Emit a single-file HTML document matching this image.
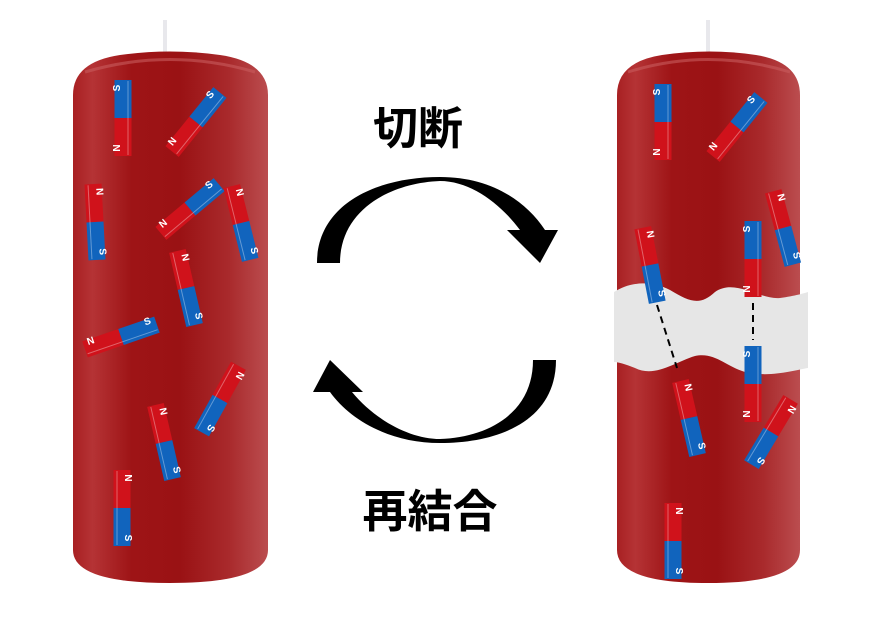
<!DOCTYPE html>
<html><head><meta charset="utf-8"><style>html,body{margin:0;padding:0;background:#fff}svg{display:block}</style></head>
<body>
<svg width="881" height="626" viewBox="0 0 881 626" xmlns="http://www.w3.org/2000/svg">
<defs>
<linearGradient id="cg" x1="0" x2="1" y1="0" y2="0">
<stop offset="0" stop-color="#a82022"/>
<stop offset="0.1" stop-color="#b53335"/>
<stop offset="0.3" stop-color="#9e1416"/>
<stop offset="0.55" stop-color="#9a1214"/>
<stop offset="0.8" stop-color="#a92a2c"/>
<stop offset="1" stop-color="#bb4d4f"/>
</linearGradient>
<g id="mag">
<rect x="-8.5" y="-38" width="17" height="38" fill="#d0121b"/>
<rect x="-8.5" y="0" width="17" height="38" fill="#1164bd"/>
<line x1="-5" y1="-37" x2="-5" y2="37" stroke="#fff" stroke-opacity="0.35" stroke-width="1"/>
<text transform="translate(3,-30) rotate(90)" font-family="Liberation Sans,sans-serif" font-weight="bold" font-size="10" fill="#fff" text-anchor="middle">N</text>
<text transform="translate(3,30) rotate(90)" font-family="Liberation Sans,sans-serif" font-weight="bold" font-size="10" fill="#fff" text-anchor="middle">S</text>
</g>
</defs>
<!-- left candle -->
<rect x="163" y="20" width="4" height="32" fill="#e8e8ec"/>
<path d="M73,95 Q73,62 120,55 Q170,48 220,55 Q268,62 268,95 L268,550 Q268,583 170,583 Q73,583 73,550 Z" fill="url(#cg)"/>
<path d="M85,72 Q170,47 255,72" stroke="#c85c5e" stroke-width="3" fill="none" opacity="0.6"/>
<!-- right candle -->
<rect x="706" y="20" width="4" height="32" fill="#e8e8ec"/>
<path d="M617,95 Q617,62 662,55 Q710,48 756,55 Q800,62 800,95 L800,550 Q800,583 708,583 Q617,583 617,550 Z" fill="url(#cg)"/>
<path d="M628,72 Q708,47 790,72" stroke="#c85c5e" stroke-width="3" fill="none" opacity="0.6"/>
<path d="M614,292 C630,282 650,280 670,290 C690,302 700,306 715,292 C735,278 760,300 780,298 C795,296 805,293 808,292 L808,368 C795,370 770,378 745,372 C725,366 715,352 695,356 C675,362 655,378 635,368 C625,364 618,362 614,362 Z" fill="#e6e6e6"/>
<!-- left magnets -->
<use href="#mag" transform="translate(123,118) rotate(180)"/>
<use href="#mag" transform="translate(196,122) rotate(-141)"/>
<use href="#mag" transform="translate(95,222) rotate(-3)"/>
<use href="#mag" transform="translate(190,209) rotate(-130)"/>
<use href="#mag" transform="translate(241,223) rotate(-14)"/>
<use href="#mag" transform="translate(186,288) rotate(-13)"/>
<use href="#mag" transform="translate(121,337) rotate(-109)"/>
<use href="#mag" transform="translate(220,399) rotate(29)"/>
<use href="#mag" transform="translate(164,442) rotate(-13)"/>
<use href="#mag" transform="translate(122,508) rotate(0)"/>
<!-- right magnets -->
<use href="#mag" transform="translate(663,122) rotate(180)"/>
<use href="#mag" transform="translate(737,127) rotate(-141)"/>
<use href="#mag" transform="translate(783,228) rotate(-15)"/>
<use href="#mag" transform="translate(650,265) rotate(-11)"/>
<use href="#mag" transform="translate(753,259) rotate(180)"/>
<use href="#mag" transform="translate(753,384) rotate(180)"/>
<use href="#mag" transform="translate(689,418) rotate(-13)"/>
<use href="#mag" transform="translate(771,432) rotate(31)"/>
<use href="#mag" transform="translate(673,541) rotate(0)"/>
<line x1="657" y1="305" x2="677" y2="368" stroke="#000" stroke-width="2" stroke-dasharray="7,5"/>
<line x1="753" y1="303" x2="753" y2="340" stroke="#000" stroke-width="2" stroke-dasharray="7,5"/>
<!-- arrows -->
<path d="M317,263 C317,205 375,177 440,177 C490,177 525,200 545,230 L558,230 L540,263 L507,230 L520,230 C500,203 470,181 440,181 C390,183 340,210 340,263 Z" fill="#000"/>
<path d="M556,360 C556,420 500,443 440,443 C390,443 350,420 330,392 L313,392 L330,360 L363,392 L352,392 C375,420 410,439 440,439 C490,437 533,412 533,360 Z" fill="#000"/>
<text x="418" y="144" font-family="Liberation Sans,'Noto Sans CJK JP',sans-serif" font-weight="bold" font-size="45" text-anchor="middle" fill="#000">切断</text>
<text x="430" y="527" font-family="Liberation Sans,'Noto Sans CJK JP',sans-serif" font-weight="bold" font-size="45" text-anchor="middle" fill="#000">再結合</text>
</svg>
</body></html>
